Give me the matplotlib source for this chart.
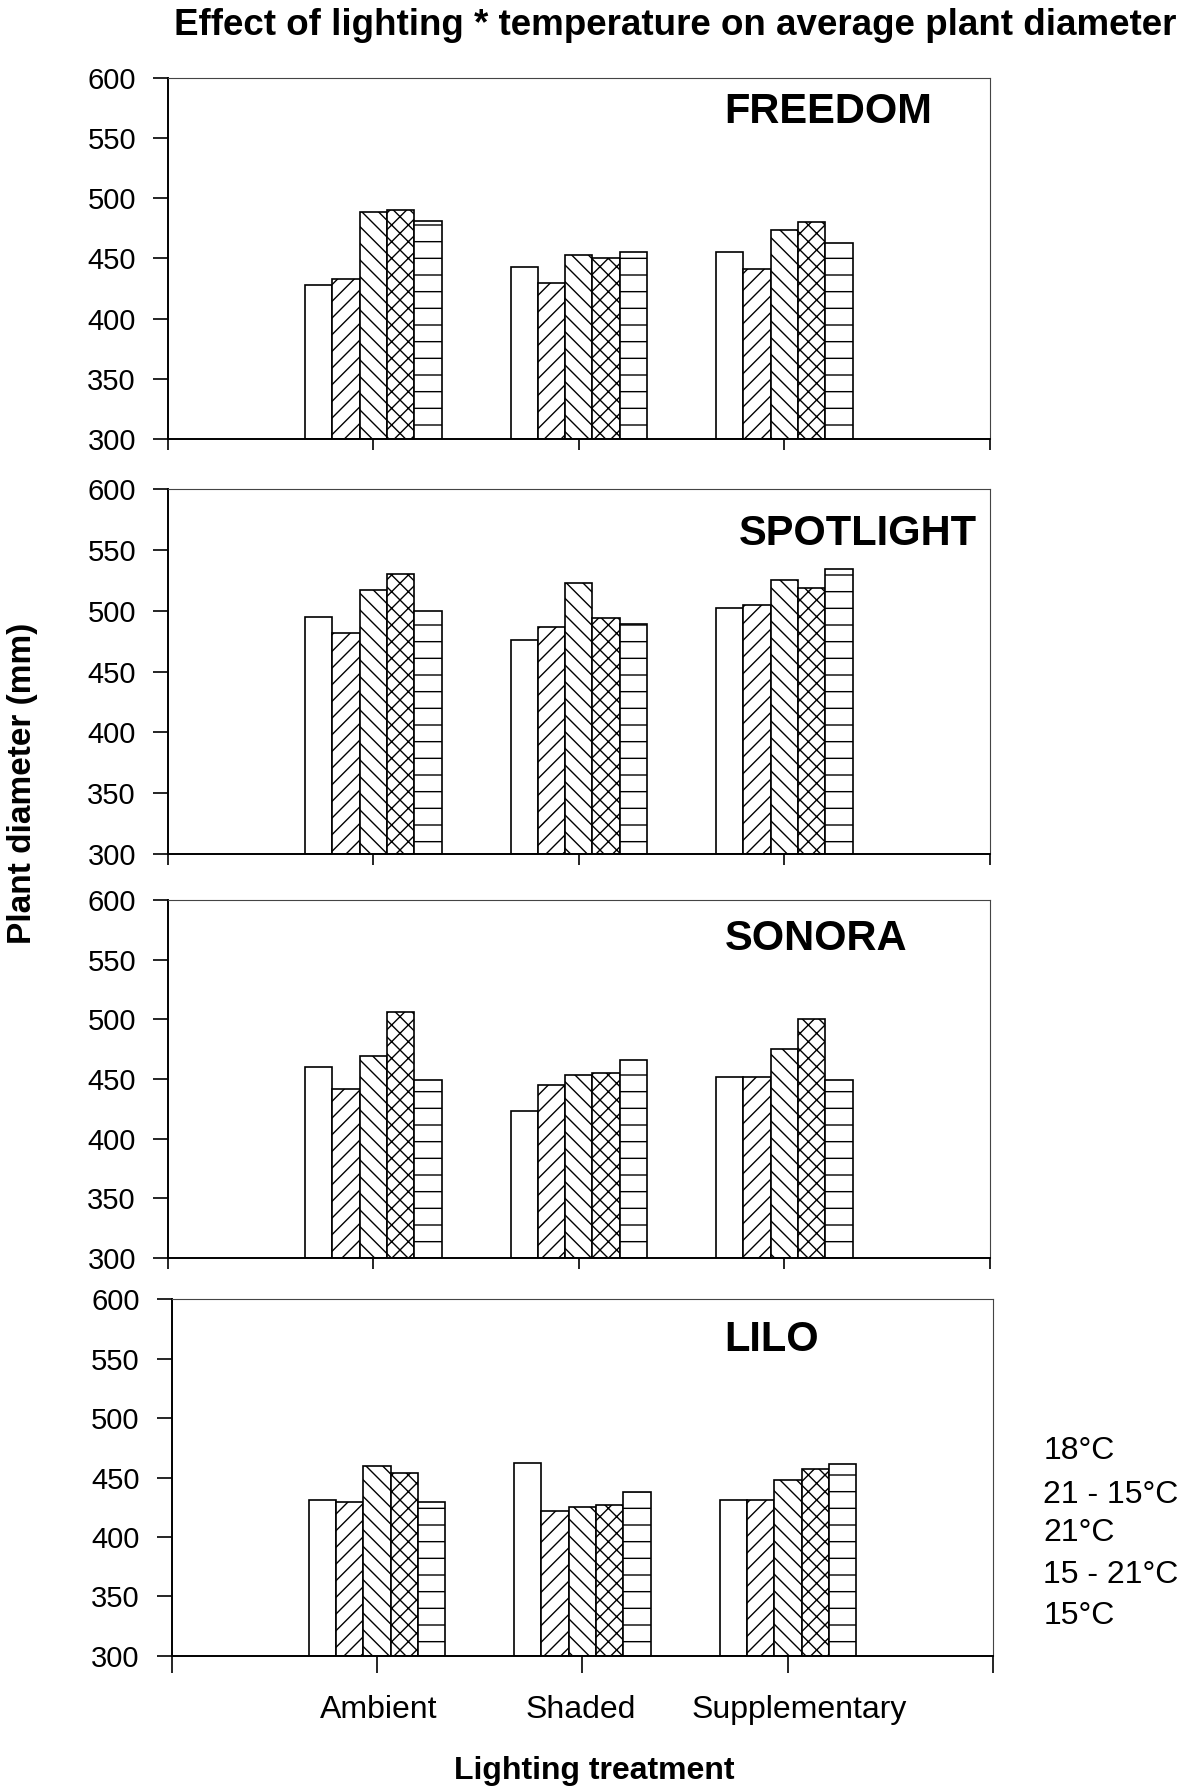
import numpy as np
import matplotlib
matplotlib.use('Agg')
import matplotlib.pyplot as plt

plt.rcParams['font.family'] = ['Liberation Sans', 'DejaVu Sans']
plt.rcParams['hatch.linewidth'] = 1.0

# data
lighting = ['Ambient', 'Shaded', 'Supplementary']
temps = ['18°C', '21 - 15°C', '21°C', '15 - 21°C', '15°C']
hatches = ['', '//', '\\\\', 'xx', '-']

freedom = [[428, 443, 455], [433, 430, 441], [489, 453, 474], [490, 450, 480], [481, 455, 463]]
spotlight = [[495, 476, 502], [482, 487, 505], [517, 523, 525], [530, 494, 519], [500, 489, 534]]
sonora = [[460, 423, 452], [442, 445, 452], [469, 453, 475], [506, 455, 500], [449, 466, 449]]
lilo = [[431, 462, 431], [429, 422, 431], [460, 425, 448], [454, 427, 457], [429, 438, 461]]

# name, values, label x / y (axes fraction)
panels = [('FREEDOM', freedom, 0.804, 0.905),
          ('SPOTLIGHT', spotlight, 0.84, 0.878),
          ('SONORA', sonora, 0.789, 0.89),
          ('LILO', lilo, 0.73, 0.885)]

# axes positions [left, bottom, width, height]
boxes = [[0.141, 0.755, 0.690, 0.2015],
         [0.141, 0.5234, 0.690, 0.2037],
         [0.141, 0.298, 0.690, 0.1998],
         [0.144, 0.0759, 0.690, 0.1992]]

fig = plt.figure(figsize=(11.91, 17.92), dpi=100)

x = np.arange(1, len(lighting) + 1)
w = 0.133

for (name, vals, tx, ty), box in zip(panels, boxes):
    ax = fig.add_axes(box)
    for i in range(len(temps)):
        ax.bar(x + (i - 2) * w, np.array(vals[i]) - 300, w, bottom=300,
               color='white', edgecolor='black', linewidth=1.2, hatch=hatches[i])
    ax.set_xlim(0, 4)
    ax.set_ylim(300, 600)
    ax.set_yticks(range(300, 601, 50))
    ax.tick_params(axis='y', labelsize=21, length=11, width=1.2, pad=12, direction='out')
    ax.set_xticks(range(0, 5))
    ax.set_xticklabels([])
    ax.tick_params(axis='x', length=8 if name != 'LILO' else 12, width=1.2, direction='out')
    ax.spines['left'].set_linewidth(1.4)
    ax.spines['bottom'].set_linewidth(1.4)
    ax.spines['top'].set_linewidth(0.8)
    ax.spines['right'].set_linewidth(0.8)
    ax.spines['top'].set_color('#444444')
    ax.spines['right'].set_color('#444444')
    ax.text(tx, ty, name, transform=ax.transAxes, fontsize=30, fontweight='bold',
            ha='center', va='center')

# category labels under last panel
for xi, lab in zip([0.318, 0.4875, 0.671], lighting):
    fig.text(xi, 0.0458, lab, fontsize=23, ha='center', va='center')

# legend text (no swatches)
for yi, t in zip([1451, 1495, 1533, 1575, 1616], temps):
    fig.text(0.876, 1 - yi / 1792, t, fontsize=23, ha='left', va='center')

fig.text(0.567, 0.986, 'Effect of lighting * temperature on average plant diameter',
         fontsize=26.5, fontweight='bold', ha='center', va='center')
fig.text(0.499, 0.0117, 'Lighting treatment', fontsize=23, fontweight='bold',
         ha='center', va='center')
fig.text(0.019, 0.563, 'Plant diameter (mm)', fontsize=24, fontweight='bold',
         ha='center', va='center', rotation=90)

plt.savefig('out.png', dpi=100)
